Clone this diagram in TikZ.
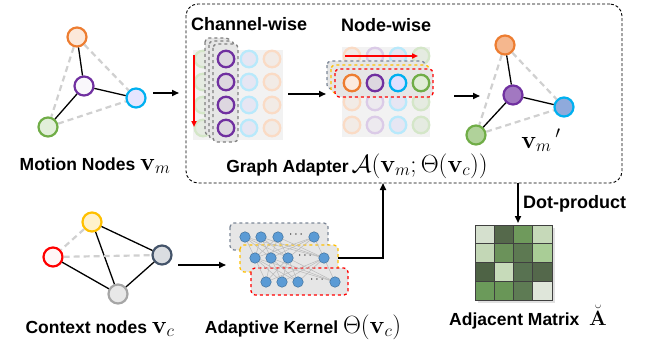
\documentclass[tikz,border=0pt]{standalone}
\usepackage[no-math]{fontspec}
\setmainfont{Liberation Sans}
\usepackage{amsmath}
\usetikzlibrary{arrows.meta}

\definecolor{orgL}{HTML}{ED7D31}
\definecolor{purL}{HTML}{7030A0}
\definecolor{bluL}{HTML}{00B0F0}
\definecolor{grnL}{HTML}{70AD47}
\definecolor{yelL}{HTML}{FFC000}
\definecolor{redL}{HTML}{FF0000}
\definecolor{slaL}{HTML}{44546A}
\definecolor{gryL}{HTML}{A6A6A6}
\definecolor{dgray}{HTML}{D0D0D0}
\definecolor{panel}{HTML}{F2F2F2}
\definecolor{boxfill}{HTML}{E6E6E6}
\definecolor{kblue}{HTML}{5B9BD5}
\definecolor{kedge}{HTML}{41719C}

% formulas are set a little larger than the bold labels
\newcommand{\lblmath}[1]{{\fontsize{24}{26}\selectfont$#1$}}

\begin{document}
\begin{tikzpicture}[x=1pt,y=-1pt,
  gnode/.style={circle, inner sep=0pt, minimum size=19pt, line width=2.2pt},
  cnode/.style={circle, inner sep=0pt, minimum size=16.5pt, line width=2.3pt},
  knode/.style={circle, inner sep=0pt, minimum size=10.5pt, fill=kblue, draw=kedge, line width=0.5pt},
  sedge/.style={line width=1.3pt, black},
  dedge/.style={line width=2.2pt, dgray, dash pattern=on 6pt off 4pt},
  kline/.style={line width=0.5pt, gray!55},
  arr/.style={line width=1.6pt, -{Triangle[length=7pt,width=6pt]}},
  redarr/.style={line width=1.5pt, redL, -{Triangle[length=6pt,width=5pt]}},
  dbox/.style={dashed, line width=1.3pt, rounded corners=4pt, fill=boxfill},
  lbl/.style={font=\bfseries\fontsize{17.5}{20}\selectfont, inner sep=0pt},
]
\useasboundingbox (0,0) rectangle (647,345);

% ---------- motion nodes ----------
\node[gnode, draw=orgL, fill=orgL!18] (mo) at (77,37) {};
\node[gnode, draw=purL, fill=purL!4]  (mp) at (84,86) {};
\node[gnode, draw=bluL, fill=blue!10] (mb) at (136,98) {};
\node[gnode, draw=grnL, fill=grnL!20] (mg) at (48,127) {};
\draw[sedge] (mo) -- (mp);
\draw[sedge] (mp) -- (mb);
\draw[sedge] (mp) -- (mg);
\draw[dedge] (mo) -- (mg);
\draw[dedge] (mo) -- (mb);
\draw[dedge] (mg) -- (mb);
\node[lbl, anchor=base] (mlabel) at (95,170) {Motion Nodes \lblmath{\mathbf{v}_m}};

% ---------- graph adapter frame ----------
\node[draw, dash pattern=on 3pt off 2pt, line width=0.9pt, rounded corners=12pt,
      minimum width=436pt, minimum height=179pt, inner sep=0pt] (adapter) at (404,93.5) {};

\coordinate (a1s) at (153,93);  \coordinate (a1e) at (179,93);
\draw[arr] (a1s) -- (a1e);

% ---------- channel-wise ----------
\node[lbl, font=\bfseries\fontsize{18}{21}\selectfont, anchor=west] (chw) at (191,24) {Channel-wise};
\fill[panel] (193,50) rectangle (283,140);
\foreach \y in {59,82,105,128} {
  \node[cnode, draw=grnL!30, fill=grnL!10!panel] at (203,\y) {};
  \node[cnode, draw=bluL!28, fill=blue!5!panel] at (249,\y) {};
  \node[cnode, draw=orgL!28, fill=orgL!6!panel] at (272,\y) {};
}
\draw[dbox, draw=gray] (205,38) rectangle (230,135);
\draw[dbox, draw=gray] (209,41) rectangle (234,139);
\draw[dbox, draw=gray] (213,44) rectangle (238,142);
\foreach \y [count=\i] in {59,82,105,128}
  \node[cnode, draw=purL, fill=purL!8!boxfill] (cp\i) at (226,\y) {};
\coordinate (rv1) at (194,55); \coordinate (rv2) at (194,127);
\draw[redarr] (rv1) -- (rv2);

\coordinate (a2s) at (288,94);  \coordinate (a2e) at (326,94);
\draw[arr] (a2s) -- (a2e);

% ---------- node-wise ----------
\node[lbl, font=\bfseries\fontsize{18}{21}\selectfont, anchor=west] (ndw) at (341,25) {Node-wise};
\fill[panel] (342,47) rectangle (430,137);
\foreach \y in {56,79,102,125} {
  \node[cnode, draw=orgL!28, fill=orgL!6!panel] at (352,\y) {};
  \node[cnode, draw=purL!25, fill=purL!4!panel] at (375,\y) {};
  \node[cnode, draw=bluL!28, fill=blue!5!panel] at (398,\y) {};
  \node[cnode, draw=grnL!30, fill=grnL!10!panel] at (421,\y) {};
}
\coordinate (rh1) at (345,56); \coordinate (rh2) at (418,56);
\draw[redarr] (rh1) -- (rh2);
\draw[dbox, draw=slaL!70] (327,61) rectangle (425,89);
\draw[dbox, draw=yelL] (331,65) rectangle (429,93);
\draw[dbox, draw=redL] (335,69) rectangle (433,97);
\node[cnode, draw=orgL, fill=orgL!15] (nw1) at (352,83) {};
\node[cnode, draw=purL, fill=purL!8!boxfill] (nw2) at (375,83) {};
\node[cnode, draw=bluL, fill=blue!12] (nw3) at (398,83) {};
\node[cnode, draw=grnL, fill=grnL!22] (nw4) at (421,83) {};

\coordinate (a3s) at (454,96);  \coordinate (a3e) at (480,96);
\draw[arr] (a3s) -- (a3e);

% ---------- updated motion nodes ----------
\node[gnode, draw=orgL, fill=orgL!55] (oo) at (505,45) {};
\node[gnode, draw=purL, fill=purL!65] (op) at (513,95) {};
\node[gnode, draw=bluL, fill={rgb,255:red,143;green,170;blue,220}] (ob) at (564,107) {};
\node[gnode, draw=grnL, fill=grnL!55] (og) at (476,135) {};
\draw[sedge] (oo) -- (op);
\draw[sedge] (op) -- (ob);
\draw[sedge] (op) -- (og);
\draw[dedge] (oo) -- (og);
\draw[dedge] (oo) -- (ob);
\draw[dedge] (og) -- (ob);
\node[inner sep=0pt, anchor=base] (vmp) at (541,148) {\lblmath{{\mathbf{v}_m}\,'}};

\node[lbl, anchor=base] (galabel) at (357,172) {Graph Adapter\,\lblmath{\mathcal{A}(\mathbf{v}_m;\Theta(\mathbf{v}_c))}};

% ---------- context nodes ----------
\node[gnode, draw=yelL, fill=yelL!20] (cy) at (92,222) {};
\node[gnode, draw=redL, fill=redL!3]  (cr) at (53,257) {};
\node[gnode, draw=slaL, fill=slaL!20] (cs) at (162,255) {};
\node[gnode, draw=gryL, fill=gray!18] (cg) at (118,294) {};
\draw[sedge] (cy) -- (cs);
\draw[sedge] (cy) -- (cg);
\draw[sedge] (cr) -- (cg);
\draw[sedge] (cs) -- (cg);
\draw[dedge] (cy) -- (cr);
\draw[dedge] (cr) -- (cs);
\node[lbl, anchor=base] (clabel) at (100,333) {Context nodes \lblmath{\mathbf{v}_c}};

\coordinate (a4s) at (178,265);  \coordinate (a4e) at (226,265);
\draw[arr] (a4s) -- (a4e);

% ---------- adaptive kernel ----------
\draw[dbox, draw=slaL!70] (230,223) rectangle (328,250);
\draw[dbox, draw=yelL]    (240,245) rectangle (338,272);
\draw[dbox, draw=redL]    (251,268) rectangle (348,295);
\foreach \l/\y/\xa/\xb/\xc/\xd/\xe in {1/237/245/261/278/297/314, 2/258/255/271/288/306/324, 3/282/266/282/298/318/335} {
  \coordinate (k\l-1) at (\xa,\y);
  \coordinate (k\l-2) at (\xb,\y);
  \coordinate (k\l-3) at (\xc,\y);
  \coordinate (k\l-4) at (\xe,\y);
  \node[inner sep=0pt, font=\fontsize{12}{12}\selectfont] (kd\l) at (\xd,\y-2) {$\cdots$};
}
\foreach \i in {1,...,4} \foreach \j in {1,...,4} {
  \draw[kline] (k1-\i) -- (k2-\j);
  \draw[kline] (k2-\i) -- (k3-\j);
}
\foreach \l in {1,2,3} \foreach \i in {1,...,4}
  \node[knode] (kn\l\i) at (k\l-\i) {};
\node[lbl, anchor=base] (klabel) at (303,333) {Adaptive Kernel \lblmath{\Theta(\mathbf{v}_c)}};

\coordinate (kup) at (383,183);
\coordinate (kout) at (338,258);
\draw[arr] (kout) -| (kup);

% ---------- adjacent matrix ----------
\fill[black, opacity=0.12] (477.5,227.5) rectangle (554.5,302.5);
\node[inner sep=0pt, minimum width=77pt, minimum height=75pt] (mat) at (513.5,262.5) {};
\foreach \c [count=\k from 0] in {D5E0CE,55694B,6F9A5C,C6D9B9,
                                 C3D7B6,6B925A,5D7952,A9CD96,
                                 4E6345,C7DBBA,587251,54684B,
                                 6B9A5A,699657,5E7B54,DFE6DA} {
  \pgfmathtruncatemacro{\row}{\k/4}
  \pgfmathtruncatemacro{\col}{mod(\k,4)}
  \definecolor{cellc}{HTML}{\c}
  \draw[fill=cellc, draw=black!75, line width=0.8pt]
    (475+19.25*\col, 225+18.75*\row) rectangle ++(19.25,18.75);
}
\coordinate (dp) at (518,223);
\draw[arr] (adapter.south -| dp) -- (dp);
\node[lbl, font=\bfseries\fontsize{18}{21}\selectfont, anchor=west] (dplabel) at (523,204) {Dot-product};
\node[lbl, anchor=base] (alabel) at (528,325) {Adjacent Matrix\ \ {\fontsize{21}{23}\selectfont$\breve{\mathbf{A}}$}};
\end{tikzpicture}
\end{document}
